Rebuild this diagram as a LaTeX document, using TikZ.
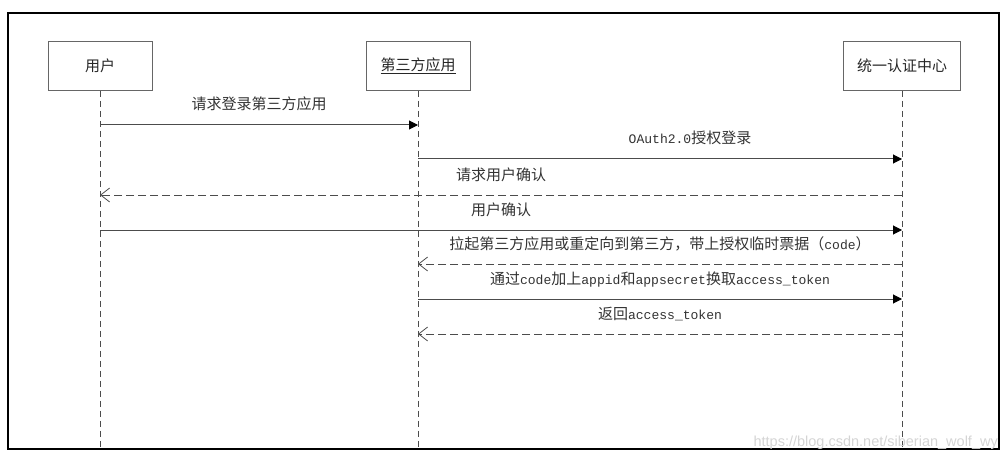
\documentclass[tikz,border=0pt]{standalone}
\usepackage{fontspec}
\setmainfont[Scale=0.87]{Liberation Mono}
\newfontfamily\cjk{Noto Sans CJK SC}
\newfontfamily\wm{Liberation Sans}
\usetikzlibrary{arrows.meta}

\begin{document}
\begin{tikzpicture}[x=1pt, y=-1pt, font=\fontsize{15}{18}\selectfont]

\useasboundingbox (0,0) rectangle (1008,457);

% Estilos de las cajas, lineas de vida y mensajes
\tikzstyle{actor}=[draw=black!60, line width=0.8pt, minimum height=49pt, inner sep=0pt, text=black!85]
\tikzstyle{lifeline}=[draw=black!70, line width=1pt, dash pattern=on 6pt off 4pt]
\tikzstyle{sync}=[draw=black!70, line width=1pt, -{Triangle[length=9pt, width=9pt, color=black]}]
\tikzstyle{reply}=[draw=black!70, line width=1pt, dash pattern=on 8pt off 4pt, -{Straight Barb[length=9pt, width=14pt, line width=0.8pt]}]
\tikzstyle{msg}=[midway, yshift=19pt, text=black!80, inner sep=0pt, text height=11pt, text depth=3pt]

% Marco
\draw[line width=1.1pt] (8,13) rectangle (999,449);

% Participantes
\node[actor, minimum width=104pt] (user) at (100,66) {\cjk 用户};
\node[actor, minimum width=104pt] (app) at (418,66) {\cjk\underline{第三方应用}};
\node[actor, minimum width=117pt] (auth) at (902,66) {\cjk 统一认证中心};

% Fin de las lineas de vida
\coordinate (user-end) at (100,449);
\coordinate (app-end) at (418,449);
\coordinate (auth-end) at (902,449);

\draw[lifeline] (user.south) -- (user-end);
\draw[lifeline] (app.south) -- (app-end);
\draw[lifeline] (auth.south) -- (auth-end);

% Mensajes
\draw[sync] (user |- 0,125) -- (app |- 0,125)
	node[msg]{\cjk 请求登录第三方应用};
\draw[sync] (app |- 0,159) -- (auth |- 0,159)
	node[msg, xshift=30pt]{OAuth2.0{\cjk 授权登录}};
\draw[reply] (auth |- 0,195) -- (user |- 0,195)
	node[msg]{\cjk 请求用户确认};
\draw[sync] (user |- 0,230) -- (auth |- 0,230)
	node[msg]{\cjk 用户确认};
\draw[reply] (auth |- 0,264) -- (app |- 0,264)
	node[msg]{{\cjk 拉起第三方应用或重定向到第三方，带上授权临时票据（}code{\cjk ）}};
\draw[sync] (app |- 0,299) -- (auth |- 0,299)
	node[msg]{{\cjk 通过}code{\cjk 加上}appid{\cjk 和}appsecret{\cjk 换取}access\_token};
\draw[reply] (auth |- 0,334) -- (app |- 0,334)
	node[msg]{{\cjk 返回}access\_token};

% Marca de agua
\node[anchor=base east, inner sep=0pt, text=black!17, font=\wm\fontsize{14.5}{16}\selectfont] (mark) at (998,446) {https://blog.csdn.net/siberian\_wolf\_wy};

\end{tikzpicture}
\end{document}
